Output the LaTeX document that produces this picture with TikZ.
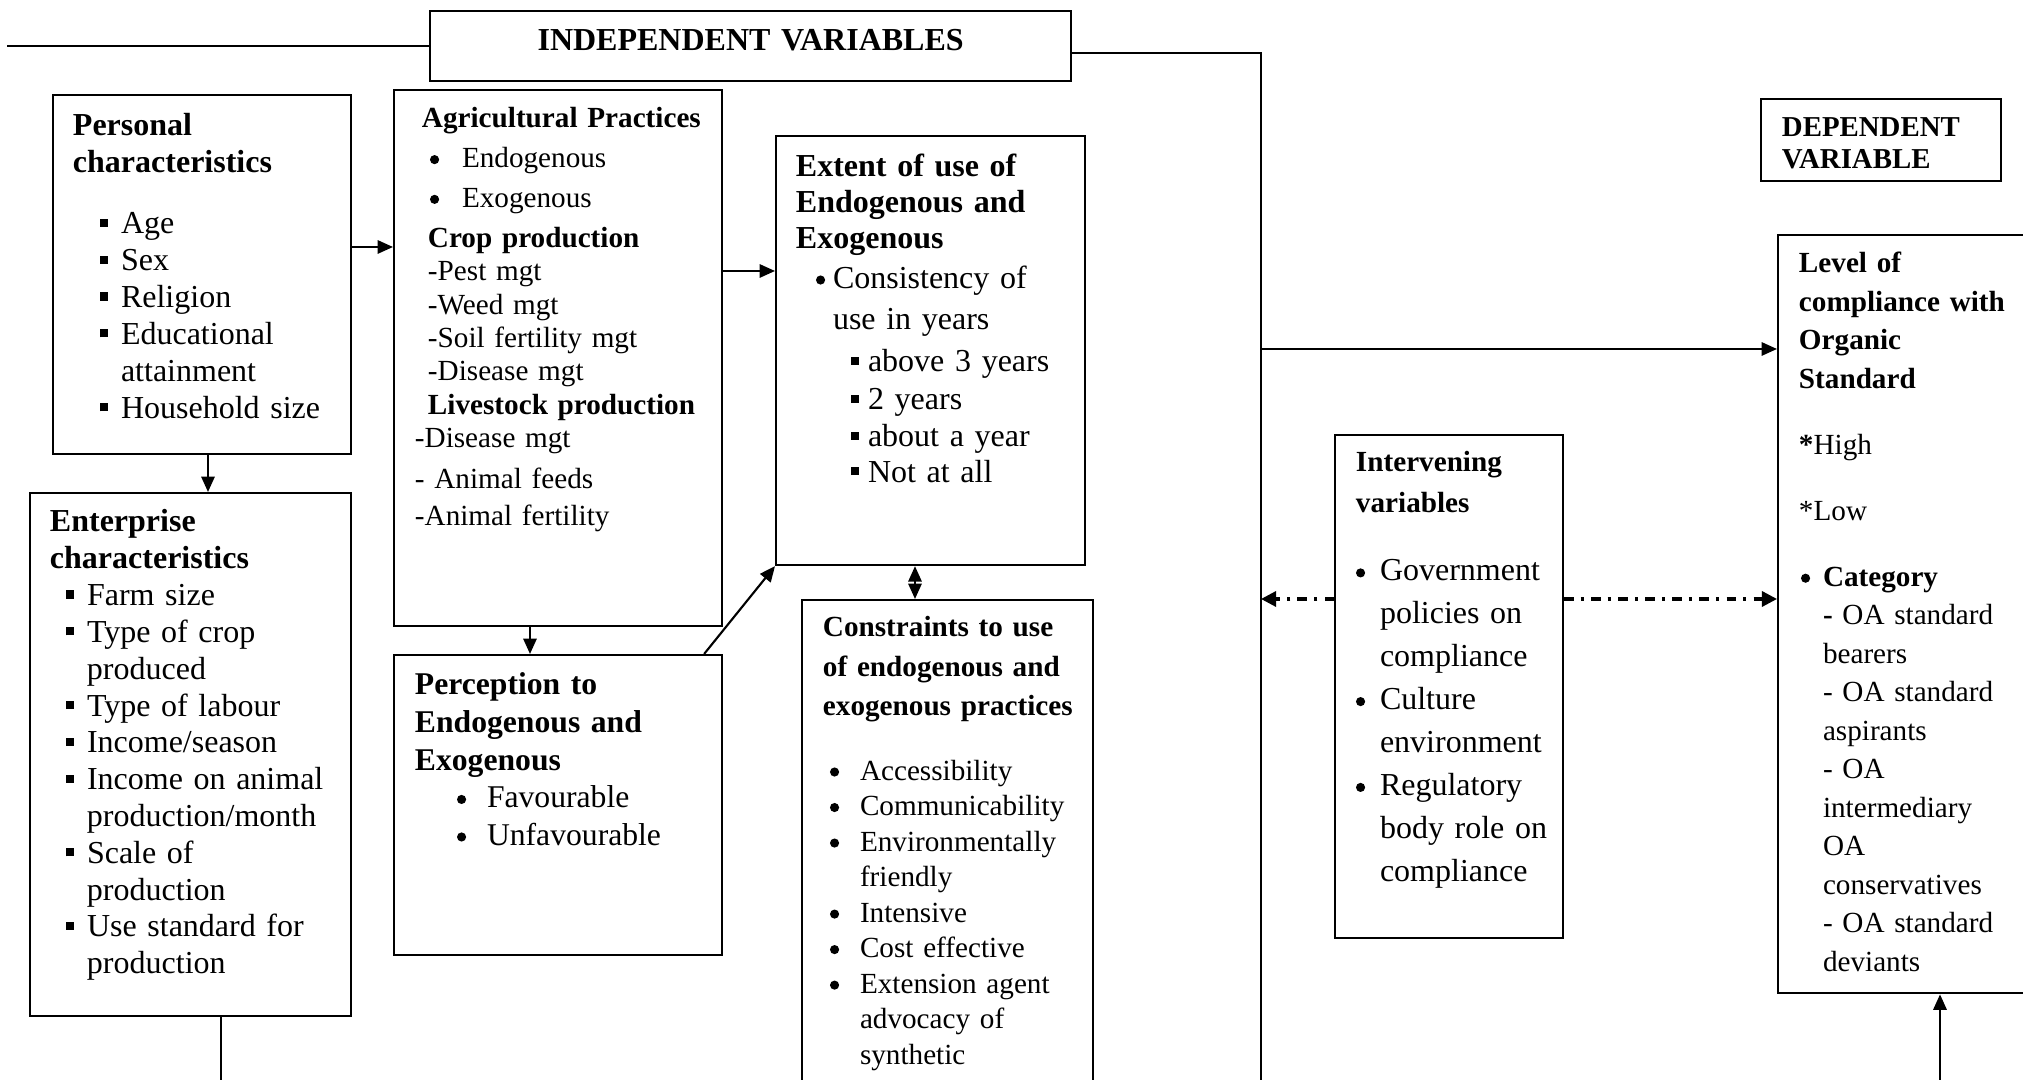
\documentclass[tikz,border=0pt]{standalone}
\usepackage{fontspec}
\setmainfont{Liberation Serif}
\usetikzlibrary{arrows.meta}
\newcommand\fs[2]{\fontsize{#1}{#2}\selectfont}
\newcommand\lsk[1]{\leftskip=#1\relax\ignorespaces}
\newcommand\sqb[1][0.21cm]{\makebox[#1][l]{\rule[2pt]{2.3pt}{2.3pt}}\ignorespaces}
\newcommand\rdb[1][0.30cm]{\makebox[#1][l]{\tikz[baseline=0pt]\fill (1.3pt,2.3pt) circle[radius=1.3pt];}\ignorespaces}
\newcommand\hds[1]{{\fs{8.3}{10}\bfseries #1}}
\tikzset{
  varbox/.style={draw, line width=0.55pt, anchor=north west, inner sep=0pt, align=left},
  wire/.style={line width=0.6pt},
  arr/.style={wire, >={Triangle[length=4.4pt,width=3.8pt]}, ->},
  dbl/.style={arr, <->},
  dashdot/.style={line width=0.9pt, dash pattern=on 2.7pt off 2pt on 0.9pt off 2.1pt, >={Triangle[length=4.3pt,width=4.3pt]}, ->}
}

\begin{document}
\begin{tikzpicture}[x=0.01cm, y=-0.01cm]
\useasboundingbox (0,0) rectangle (2023,1080);
\clip (0,0) rectangle (2023,1080);
\node[varbox, align=center, text width=6.41cm, text height=0.40cm, text depth=0.30cm, font=\fs{9.1}{10.5}\bfseries] (ivar) at (429,10) {INDEPENDENT VARIABLES};
\node[varbox, text width=2.98cm, text height=0.41cm, text depth=3.18cm, font=\fs{9.1}{10.5}] (pers) at (52,94) {\lsk{0.2cm}\textbf{Personal}\\
\textbf{characteristics}\\[6.8pt]
\hspace*{0.27cm}\sqb Age\\
\hspace*{0.27cm}\sqb Sex\\
\hspace*{0.27cm}\sqb Religion\\
\hspace*{0.27cm}\sqb Educational\\
\hspace*{0.48cm}attainment\\
\hspace*{0.27cm}\sqb Household size\par};
\node[varbox, text width=3.28cm, text height=0.38cm, text depth=4.98cm, font=\fs{8.3}{9.5}] (agri) at (393,89) {\lsk{0.21cm}\hspace*{0.07cm}\textbf{Agricultural Practices}\\[1.8pt]
\hspace*{0.15cm}\rdb[0.32cm]Endogenous\\[1.8pt]
\hspace*{0.15cm}\rdb[0.32cm]Exogenous\\[1.8pt]
\hspace*{0.13cm}\textbf{Crop production}\\
\hspace*{0.13cm}-Pest mgt\\
\hspace*{0.13cm}-Weed mgt\\
\hspace*{0.13cm}-Soil fertility mgt\\
\hspace*{0.13cm}-Disease mgt\\
\hspace*{0.13cm}\textbf{Livestock production}\\
-Disease mgt\\[2pt]
- Animal feeds\\[1pt]
-Animal fertility\par};
\node[varbox, text width=3.21cm, text height=0.39cm, text depth=4.84cm, font=\fs{9.1}{10.47}] (ent) at (29,492) {\lsk{0.2cm}\textbf{Enterprise}\\
\textbf{characteristics}\\
\hspace*{0.16cm}\sqb Farm size\\
\hspace*{0.16cm}\sqb Type of crop\\
\hspace*{0.37cm}produced\\
\hspace*{0.16cm}\sqb Type of labour\\
\hspace*{0.16cm}\sqb Income/season\\
\hspace*{0.16cm}\sqb Income on animal\\
\hspace*{0.37cm}production/month\\
\hspace*{0.16cm}\sqb Scale of\\
\hspace*{0.37cm}production\\
\hspace*{0.16cm}\sqb Use standard for\\
\hspace*{0.37cm}production\par};
\node[varbox, text width=3.28cm, text height=0.40cm, text depth=2.60cm, font=\fs{9}{10.67}] (perc) at (393,654) {\lsk{0.21cm}\textbf{Perception to}\\
\textbf{Endogenous and}\\
\textbf{Exogenous}\\
\hspace*{0.42cm}\rdb Favourable\\
\hspace*{0.42cm}\rdb Unfavourable\par};
\node[varbox, text width=3.09cm, text height=0.41cm, text depth=3.88cm, font=\fs{9.1}{10.1}] (ext) at (775,135) {\lsk{0.2cm}\textbf{Extent of use of}\\
\textbf{Endogenous and}\\
\textbf{Exogenous}\\[1.3pt]
\hspace*{0.2cm}\rdb[0.17cm]Consistency of\\[1.8pt]
\hspace*{0.37cm}use in years\\[1.8pt]
\hspace*{0.55cm}\sqb[0.17cm]above 3 years\\[0.7pt]
\hspace*{0.55cm}\sqb[0.17cm]2 years\\[0.4pt]
\hspace*{0.55cm}\sqb[0.17cm]about a year\\
\hspace*{0.55cm}\sqb[0.17cm]Not at all\par};
\node[varbox, text width=2.91cm, text height=0.37cm, text depth=5.20cm, font=\fs{8.3}{10.1}] (cons) at (801,599) {\lsk{0.21cm}\textbf{Constraints to use}\\[1pt]
\textbf{of endogenous and}\\[1pt]
\textbf{exogenous practices}\\[8.4pt]
\hspace*{0.07cm}\rdb Accessibility\\
\hspace*{0.07cm}\rdb Communicability\\
\hspace*{0.07cm}\rdb Environmentally\\
\hspace*{0.37cm}friendly\\
\hspace*{0.07cm}\rdb Intensive\\
\hspace*{0.07cm}\rdb Cost effective\\
\hspace*{0.07cm}\rdb Extension agent\\
\hspace*{0.37cm}advocacy of\\
\hspace*{0.37cm}synthetic\par};
\node[varbox, text width=2.28cm, text height=0.37cm, text depth=4.66cm, font=\fs{9.1}{12.2}] (intv) at (1334,434) {\lsk{0.21cm}\hds{Intervening}\\[-0.8pt]
\hds{variables}\\[7.4pt]
\rdb[0.24cm]Government\\
\hspace*{0.24cm}policies on\\
\hspace*{0.24cm}compliance\\
\rdb[0.24cm]Culture\\
\hspace*{0.24cm}environment\\
\rdb[0.24cm]Regulatory\\
\hspace*{0.24cm}body role on\\
\hspace*{0.24cm}compliance\par};
\node[varbox, text width=2.40cm, text height=0.38cm, text depth=0.44cm, font=\fs{8.2}{9.1}\bfseries] (dep) at (1760,98) {\lsk{0.21cm}DEPENDENT\\
VARIABLE\par};
\node[varbox, text width=2.90cm, text height=0.38cm, text depth=7.20cm, font=\fs{8.3}{10.95}] (lvl) at (1777,234) {\lsk{0.21cm}\textbf{Level of}\\
\textbf{compliance with}\\
\textbf{Organic}\\
\textbf{Standard}\\[7.8pt]
\textbf{*}High\\[7.8pt]
*Low\\[7.8pt]
\hspace*{0.02cm}\rdb[0.22cm]\textbf{Category}\\
\hspace*{0.24cm}\textbf{-} OA standard\\
\hspace*{0.24cm}bearers\\
\hspace*{0.24cm}- OA standard\\
\hspace*{0.24cm}aspirants\\
\hspace*{0.24cm}- OA\\
\hspace*{0.24cm}intermediary\\
\hspace*{0.24cm}OA\\
\hspace*{0.24cm}conservatives\\
\hspace*{0.24cm}- OA standard\\
\hspace*{0.24cm}deviants\par};
\coordinate (lft) at (7,46);
\coordinate (rtop) at (1261,53);
\coordinate (rbot) at (1261,1090);
\coordinate (entbot) at (221,1090);
\coordinate (lvlbot) at (1940,1090);
\draw[wire] (lft) -- (ivar.west |- lft);
\draw[wire] (ivar.east |- rtop) -- (rtop) -- (rbot);
\draw[arr] (pers.east |- 0,247) -- (agri.west |- 0,247);
\draw[arr] (agri.east |- 0,271) -- (ext.west |- 0,271);
\draw[arr] (pers.south -| 208,0) -- (ent.north -| 208,0);
\draw[wire] (ent.south -| entbot) -- (entbot);
\draw[arr] (agri.south -| 530,0) -- (perc.north -| 530,0);
\draw[arr] ([xshift=-0.19cm]perc.north east) -- (ext.south west);
\draw[dbl] (ext.south -| 915,0) -- (cons.north -| 915,0);
\draw[arr] (rtop |- 0,349) -- (lvl.west |- 0,349);
\draw[dashdot] (intv.west |- 0,599) -- (rtop |- 0,599);
\draw[dashdot] (intv.east |- 0,599) -- (lvl.west |- 0,599);
\draw[arr] (lvlbot) -- (lvl.south -| lvlbot);
\end{tikzpicture}
\end{document}
